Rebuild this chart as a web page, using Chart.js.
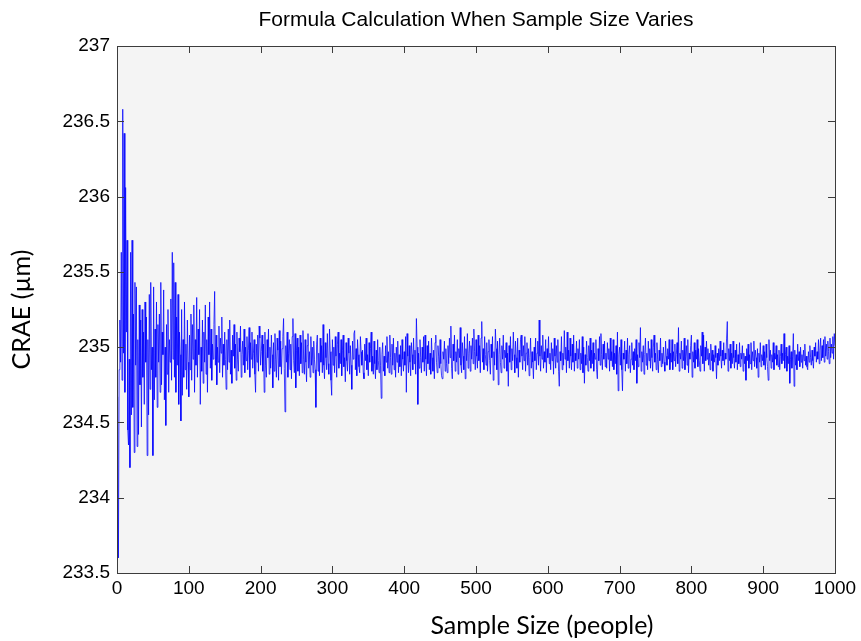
<!DOCTYPE html>
<html>
<head>
<meta charset="utf-8">
<script src="https://cdn.jsdelivr.net/npm/chart.js@4.4.1/dist/chart.umd.min.js"></script>
<style>
  html, body { margin: 0; padding: 0; background: #fff; }
  #wrap { width: 861px; height: 641px; }
</style>
</head>
<body>
<div id="wrap"><canvas id="chartOne" width="861" height="641"></canvas></div>
<script>
// CRAE values, sample sizes 1..1000
const craeValues = [
  234.67, 233.60, 234.85, 235.18, 234.90, 235.63, 234.78, 236.58, 234.96, 236.42, 234.70, 236.06, 235.10, 235.71, 234.45, 234.35, 234.92, 234.20, 235.63, 234.55,
  235.71, 234.60, 235.22, 234.30, 235.43, 234.88, 235.40, 234.34, 235.05, 234.42, 235.28, 234.75, 235.18, 234.47, 235.25, 234.80, 235.10, 234.62, 235.30, 234.90,
  235.20, 234.28, 235.05, 234.55, 235.35, 234.72, 235.43, 234.85, 235.00, 234.28, 235.40, 234.65, 235.12, 234.80, 235.30, 234.60, 235.15, 234.90, 235.22, 234.70,
  235.43, 234.75, 235.10, 234.95, 235.38, 234.65, 235.00, 234.48, 235.15, 234.82, 235.25, 234.70, 235.05, 234.90, 235.32, 234.78, 235.63, 234.92, 235.56, 234.80,
  235.43, 234.70, 235.20, 234.88, 235.35, 234.62, 235.10, 234.95, 234.51, 235.25, 234.68, 235.05, 234.80, 235.30, 234.85, 235.02, 234.72, 235.18, 234.90, 234.67,
  235.08, 234.85, 235.22, 234.78, 235.15, 234.92, 235.28, 234.70, 235.05, 234.88, 235.33, 234.80, 235.12, 234.95, 235.25, 234.62, 235.00, 234.84, 235.18, 234.76,
  235.10, 234.90, 235.28, 234.82, 235.05, 234.70, 235.20, 234.95, 235.30, 234.86, 235.12, 234.78, 235.02, 234.92, 235.15, 235.37, 234.88, 235.08, 234.75, 235.00,
  234.90, 235.14, 234.83, 235.06, 234.96, 235.20, 234.80, 235.02, 234.88, 235.10, 234.92, 234.72, 235.05, 234.85, 235.12, 234.90, 235.18, 234.82, 234.98, 234.76,
  235.08, 234.94, 235.15, 234.86, 235.02, 234.78, 235.10, 234.92, 234.84, 235.06, 234.97, 235.14, 234.80, 234.95, 235.04, 234.88, 235.12, 234.83, 235.00, 234.91,
  235.07, 234.85, 234.98, 235.13, 234.80, 235.03, 234.92, 235.10, 234.86, 234.96, 235.05, 234.82, 234.70, 235.02, 234.90, 235.08, 234.84, 235.14, 235.06, 234.88,
  234.97, 235.08, 234.84, 235.02, 234.70, 235.10, 234.88, 234.80, 235.05, 234.93, 235.12, 234.82, 235.00, 234.86, 235.08, 234.95, 234.73, 235.03, 234.84, 235.09,
  234.92, 234.80, 235.06, 234.98, 234.78, 235.11, 234.87, 235.04, 234.82, 234.99, 235.07, 235.19, 234.86, 234.57, 235.01, 234.90, 235.10, 234.80, 234.96, 235.05,
  234.85, 235.02, 234.79, 235.07, 235.19, 234.91, 234.83, 235.09, 234.73, 234.98, 235.06, 234.84, 235.00, 234.81, 235.08, 234.89, 235.03, 234.83, 235.11, 234.92,
  234.82, 235.05, 234.90, 234.77, 235.01, 235.09, 234.86, 234.97, 234.80, 235.07, 234.88, 235.00, 234.83, 235.04, 234.92, 234.85, 234.60, 235.02, 235.08, 234.84,
  234.96, 234.81, 235.06, 234.90, 235.01, 234.83, 235.15, 234.88, 234.79, 235.03, 234.93, 234.85, 235.09, 234.89, 234.82, 235.12, 234.97, 234.78, 234.68, 235.05,
  234.88, 235.00, 234.83, 235.07, 234.94, 234.80, 235.02, 235.10, 234.86, 234.96, 234.89, 235.05, 234.81, 234.98, 235.08, 234.87, 234.93, 234.77, 235.03, 234.91,
  234.84, 235.06, 234.96, 234.82, 235.01, 234.88, 234.72, 235.04, 234.92, 235.09, 235.11, 234.85, 234.99, 234.81, 235.05, 234.95, 234.87, 234.83, 235.07, 234.97,
  234.88, 234.98, 234.83, 234.79, 235.02, 234.91, 235.06, 234.85, 234.95, 234.81, 235.03, 234.90, 234.99, 235.10, 234.84, 234.94, 234.82, 235.04, 234.89, 234.79,
  234.98, 234.85, 235.05, 234.91, 234.83, 235.00, 234.88, 234.66, 234.95, 235.03, 234.84, 234.94, 234.81, 235.01, 234.90, 235.07, 234.86, 234.97, 234.83, 235.08,
  234.93, 234.82, 235.02, 234.88, 235.06, 234.85, 234.96, 234.80, 235.00, 234.90, 235.04, 234.83, 234.95, 234.87, 235.01, 234.81, 235.05, 234.92, 234.84, 234.97,
  234.88, 235.07, 234.70, 235.09, 234.94, 234.83, 235.01, 234.90, 234.81, 235.03, 234.95, 234.85, 235.06, 234.89, 234.98, 234.82, 235.19, 235.00, 234.62, 234.96,
  234.86, 235.05, 234.93, 234.83, 235.00, 234.90, 235.07, 234.84, 235.08, 234.92, 234.81, 235.01, 234.89, 235.04, 234.85, 234.96, 234.82, 235.06, 234.93, 234.84,
  234.98, 234.79, 235.03, 235.08, 234.90, 234.83, 235.01, 234.94, 234.86, 235.05, 234.89, 234.81, 234.79, 234.97, 234.92, 235.04, 234.84, 234.99, 234.89, 234.83,
  235.01, 234.89, 235.06, 234.93, 235.14, 234.86, 234.79, 235.02, 234.91, 235.08, 234.84, 234.97, 234.90, 235.05, 234.82, 234.99, 234.93, 235.13, 234.88, 234.83,
  235.03, 234.94, 234.85, 235.07, 234.79, 234.99, 234.91, 235.09, 234.86, 234.96, 235.04, 234.84, 235.01, 234.92, 235.06, 234.89, 235.12, 234.97, 234.85, 235.05,
  234.94, 234.86, 235.08, 234.91, 235.01, 234.83, 235.06, 235.17, 234.90, 234.99, 234.85, 235.07, 234.95, 234.88, 235.03, 234.84, 234.97, 235.05, 234.91, 234.82,
  235.02, 234.93, 235.07, 234.78, 234.97, 234.88, 235.12, 234.99, 234.85, 235.04, 234.75, 234.95, 235.06, 234.90, 234.83, 235.01, 234.92, 235.08, 234.86, 234.98,
  234.93, 235.03, 234.84, 234.96, 234.74, 235.01, 234.90, 235.07, 234.85, 234.99, 234.91, 235.10, 234.95, 234.83, 235.04, 234.93, 234.86, 235.06, 234.80, 234.98,
  234.90, 235.05, 235.08, 234.94, 234.85, 235.01, 234.91, 235.07, 234.84, 234.96, 235.03, 234.88, 234.99, 234.81, 234.93, 235.06, 234.86, 234.97, 234.90, 234.79,
  235.00, 234.91, 235.06, 234.85, 234.96, 235.04, 234.88, 235.18, 234.94, 234.84, 235.01, 234.92, 235.08, 234.86, 234.97, 234.90, 235.05, 234.83, 234.99, 234.93,
  235.07, 234.89, 234.96, 234.85, 235.03, 234.91, 234.99, 234.82, 235.06, 234.94, 234.86, 235.01, 234.90, 235.05, 234.84, 234.74, 234.97, 234.91, 235.07, 234.85,
  234.96, 234.88, 235.11, 234.92, 235.00, 234.83, 235.10, 234.91, 234.98, 234.86, 235.06, 234.94, 234.85, 235.02, 234.90, 235.08, 234.84, 234.96, 234.91, 235.04,
  234.86, 234.99, 234.92, 235.05, 234.85, 234.96, 234.89, 235.07, 234.83, 235.00, 234.76, 234.95, 234.88, 235.04, 234.93, 234.84, 235.01, 234.91, 235.06, 234.86,
  234.98, 234.89, 235.03, 234.84, 234.96, 234.92, 235.05, 234.85, 234.79, 234.99, 234.91, 235.07, 234.88, 235.09, 234.95, 234.85, 235.02, 234.92, 235.04, 234.87,
  234.96, 234.86, 235.03, 234.92, 234.99, 234.84, 235.06, 234.91, 234.97, 234.87, 235.05, 234.85, 234.96, 234.89, 235.01, 234.82, 235.10, 234.71, 234.95, 235.00,
  234.88, 235.05, 234.85, 234.71, 234.96, 234.92, 235.04, 234.84, 234.98, 234.89, 235.06, 234.86, 234.95, 235.01, 234.83, 234.92, 235.03, 234.88, 234.97, 234.85,
  234.99, 234.91, 235.05, 234.76, 234.95, 234.87, 235.03, 234.93, 235.13, 234.84, 234.97, 234.90, 235.01, 234.82, 234.95, 235.06, 234.88, 234.96, 234.85, 235.04,
  234.91, 234.99, 234.86, 235.05, 234.93, 234.84, 235.00, 235.08, 234.90, 234.96, 234.85, 235.03, 234.92, 234.83, 234.98, 234.91, 235.06, 234.87, 234.96, 234.89,
  235.00, 234.90, 234.84, 235.04, 234.94, 234.88, 234.99, 234.92, 235.05, 234.85, 234.96, 234.90, 235.05, 234.85, 234.97, 234.91, 235.02, 234.87, 234.95, 235.03,
  234.89, 235.13, 234.84, 234.96, 234.92, 235.04, 234.86, 234.98, 234.91, 235.06, 234.85, 234.94, 235.01, 234.88, 235.05, 234.83, 234.96, 234.92, 235.01, 235.08,
  234.80, 234.97, 234.90, 235.03, 234.86, 234.98, 234.92, 235.05, 234.87, 234.99, 234.91, 234.84, 235.01, 234.94, 235.10, 234.89, 235.08, 234.84, 235.00, 234.91,
  235.04, 234.92, 234.99, 234.88, 234.96, 234.85, 235.02, 234.91, 234.98, 234.84, 234.95, 234.90, 235.01, 234.93, 234.79, 234.96, 234.88, 234.99, 234.91, 235.04,
  234.94, 234.86, 234.98, 234.91, 235.03, 234.88, 234.96, 234.92, 235.06, 235.17, 234.84, 234.99, 234.91, 235.02, 234.86, 234.96, 234.89, 235.04, 234.93, 234.86,
  234.98, 234.90, 235.02, 234.85, 234.95, 234.89, 235.03, 234.87, 234.96, 234.92, 235.01, 234.84, 234.96, 234.89, 234.94, 234.78, 234.99, 234.91, 235.02, 234.86,
  234.95, 234.89, 235.03, 234.85, 234.97, 234.91, 235.04, 234.87, 234.98, 234.93, 234.86, 234.99, 234.80, 234.96, 234.90, 235.03, 234.87, 234.95, 234.91, 235.01,
  234.88, 234.97, 234.85, 235.02, 234.93, 234.87, 234.78, 235.05, 234.91, 234.98, 234.86, 234.95, 234.90, 235.03, 234.85, 234.96, 234.92, 235.01, 234.88, 234.95,
  234.87, 234.98, 234.85, 234.94, 235.02, 234.89, 234.96, 234.91, 235.09, 234.86, 234.95, 235.00, 234.84, 234.94, 234.89, 235.01, 234.76, 234.92, 234.97, 234.86,
  234.94, 235.09, 234.74, 234.98, 234.88, 234.95, 234.85, 235.02, 234.91, 234.97, 234.87, 235.00, 234.90, 234.95, 234.86, 234.98, 234.91, 235.02, 234.88, 234.94,
  234.87, 234.85, 234.97, 234.90, 235.01, 234.93, 234.88, 234.98, 234.91, 234.86, 235.00, 234.94, 235.03, 234.90, 234.97, 234.92, 235.05, 234.89, 234.98, 235.06,
  234.91, 235.01, 234.93, 235.05, 234.90, 235.07, 234.94, 235.02, 234.92, 235.04, 234.97, 234.89, 235.06, 234.93, 235.02, 234.96, 235.07, 234.92, 235.09, 235.01
];
const sampleSizes = craeValues.map((v, i) => i + 1);

const xTicks = [0, 100, 200, 300, 400, 500, 600, 700, 800, 900, 1000];
const yTicks = [233.5, 234, 234.5, 235, 235.5, 236, 236.5, 237];

const tickFont = { family: 'Liberation Sans, Arial, sans-serif', size: 19 };
const labelFont = { family: 'Lato, Open Sans, sans-serif', size: 25 };

// grey plot area + box + inward ticks on all four sides (MATLAB look)
const matlabAxes = {
    id: 'matlabAxes',
    beforeDatasetsDraw(chart) {
        const {ctx, chartArea: a} = chart;
        ctx.save();
        ctx.fillStyle = '#f4f4f4';
        ctx.fillRect(a.left, a.top, a.right - a.left, a.bottom - a.top);
        ctx.restore();
    },
    afterDraw(chart) {
        const {ctx, chartArea: a, scales} = chart;
        const len = 7;
        ctx.save();
        ctx.strokeStyle = '#3c3c3c';
        ctx.lineWidth = 1;
        ctx.beginPath();
        xTicks.forEach(t => {
            const x = Math.round(scales.x.getPixelForValue(t)) + 0.5;
            ctx.moveTo(x, a.bottom); ctx.lineTo(x, a.bottom - len);
            ctx.moveTo(x, a.top); ctx.lineTo(x, a.top + len);
        });
        yTicks.forEach(t => {
            const y = Math.round(scales.y.getPixelForValue(t)) + 0.5;
            ctx.moveTo(a.left, y); ctx.lineTo(a.left + len, y);
            ctx.moveTo(a.right, y); ctx.lineTo(a.right - len, y);
        });
        ctx.stroke();
        ctx.strokeRect(Math.round(a.left) + 0.5, Math.round(a.top) + 0.5,
            Math.round(a.right - a.left), Math.round(a.bottom - a.top));

        // x axis label sits right of centre in the original figure
        ctx.fillStyle = '#000';
        ctx.font = labelFont.size + 'px ' + labelFont.family;
        ctx.textAlign = 'center';
        ctx.textBaseline = 'middle';
        ctx.fillText('Sample Size (people)', 542, 626);
        ctx.restore();
    }
};

var ctxOne = document.getElementById('chartOne').getContext('2d');
var chartOne = new Chart(ctxOne, {
    type: 'line',
    data: {
        datasets: [{
            label: 'CRAE',
            data: sampleSizes.map((s, i) => ({ x: s, y: craeValues[i] })),
            borderColor: '#0000ff',
            borderWidth: 0.75,
            pointRadius: 0,
            tension: 0,
            fill: false
        }]
    },
    options: {
        responsive: false,
        animation: false,
        layout: {
            padding: { left: 0, right: 26, top: 0, bottom: 0 }
        },
        plugins: {
            legend: { display: false },
            tooltip: { enabled: false },
            title: {
                display: true,
                fullSize: false,
                text: 'Formula Calculation When Sample Size Varies',
                color: '#000',
                font: { family: 'Liberation Sans, Arial, sans-serif', size: 21, weight: 'normal', lineHeight: 1.2 },
                padding: { top: 8, bottom: 12.8 }
            }
        },
        scales: {
            x: {
                type: 'linear',
                min: 0,
                max: 1000,
                afterFit: (scale) => { scale.height = 68; },
                afterBuildTicks: (scale) => { scale.ticks = xTicks.map(v => ({ value: v })); },
                grid: { display: false, drawTicks: false },
                border: { display: false },
                ticks: { color: '#000', font: tickFont, padding: 4, maxRotation: 0, autoSkip: false,
                         callback: (v) => String(v) },
                title: { display: false }
            },
            y: {
                min: 233.5,
                max: 237,
                afterFit: (scale) => { scale.width = 117; },
                afterBuildTicks: (scale) => { scale.ticks = yTicks.map(v => ({ value: v })); },
                grid: { display: false, drawTicks: false },
                border: { display: false },
                ticks: { color: '#000', font: tickFont, padding: 7, autoSkip: false,
                         callback: (v) => String(v) },
                title: { display: true, text: 'CRAE (µm)', color: '#000', font: labelFont, padding: { top: 7, bottom: 0 } }
            }
        }
    },
    plugins: [matlabAxes]
});
</script>
</body>
</html>
